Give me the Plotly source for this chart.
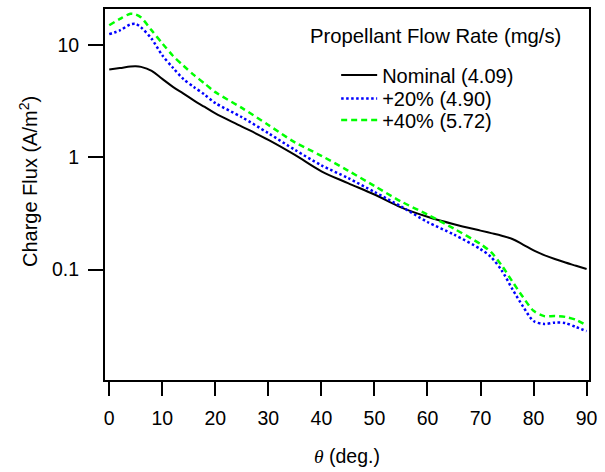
import plotly.graph_objects as go

# Angle grid (deg.)
theta = [0, 2, 4, 5, 6, 8, 10, 12, 14, 16, 18, 20, 25, 30, 35, 40, 45, 50,
         55, 60, 65, 70, 72, 74, 76, 78, 80, 82, 84, 86, 88, 90]

# Charge flux (A/m^2) for each propellant flow rate
flux_nominal = [6.07, 6.25, 6.45, 6.48, 6.40, 5.90, 5.00, 4.25, 3.70, 3.20, 2.81, 2.46,
                1.88, 1.43, 1.05, 0.751, 0.589, 0.466, 0.358, 0.295, 0.253, 0.222,
                0.211, 0.200, 0.187, 0.167, 0.148, 0.1345, 0.124, 0.1154, 0.108, 0.101]
flux_plus20 = [12.52, 13.53, 15.30, 15.45, 14.39, 11.37, 8.12, 6.29, 4.97, 4.22, 3.62, 3.045,
               2.279, 1.640, 1.166, 0.849, 0.654, 0.491, 0.365, 0.265, 0.2048, 0.152,
               0.1288, 0.098, 0.0669, 0.0469, 0.0347, 0.0327, 0.0336, 0.0333, 0.0307, 0.0282]
flux_plus40 = [15.05, 17.12, 19.03, 18.76, 17.65, 13.53, 10.37, 8.04, 6.55, 5.40, 4.54, 3.81,
               2.755, 1.943, 1.359, 1.031, 0.762, 0.555, 0.4045, 0.309, 0.231, 0.1684,
               0.1427, 0.1085, 0.0781, 0.0568, 0.0428, 0.0384, 0.0385, 0.0378, 0.0356, 0.0317]

series_names = ["Nominal (4.09)", "+20% (4.90)", "+40% (5.72)"]
legend_title = "Propellant Flow Rate (mg/s)"
x_ticks = [0, 10, 20, 30, 40, 50, 60, 70, 80, 90]
y_ticks = [0.1, 1, 10]
y_ticktext = ["0.1", "1", "10"]

FONT = "Liberation Sans, Arial, sans-serif"

fig = go.Figure()
fig.add_trace(go.Scatter(x=theta, y=flux_nominal, mode="lines", name=series_names[0],
                         legend="legend",
                         line=dict(color="black", width=2, shape="spline", smoothing=1)))
fig.add_trace(go.Scatter(x=theta, y=flux_plus20, mode="lines", name=series_names[1],
                         legend="legend2",
                         line=dict(color="#0000ff", width=2.5, dash="2.5px,2.5px",
                                   shape="spline", smoothing=0.8)))
fig.add_trace(go.Scatter(x=theta, y=flux_plus40, mode="lines", name=series_names[2],
                         legend="legend3",
                         line=dict(color="#00ff00", width=2.5, dash="6px,4px",
                                   shape="spline", smoothing=0.8)))


def leg(ypaper):
    return dict(x=0.4776, y=ypaper, xanchor="left", yanchor="top",
                bgcolor="rgba(0,0,0,0)", borderwidth=0,
                font=dict(family=FONT, size=20, color="black"),
                itemwidth=36, tracegroupgap=0)


fig.update_layout(
    width=605, height=472,
    margin=dict(l=105, r=8, t=7, b=92),
    paper_bgcolor="white", plot_bgcolor="white",
    font=dict(family=FONT, size=19, color="black"),
    showlegend=True,
    legend=leg(0.8748),
    legend2=leg(0.8116),
    legend3=leg(0.7534),
    annotations=[
        dict(text=legend_title, xref="paper", yref="paper", x=0.4187, y=0.928,
             xanchor="left", yanchor="middle", showarrow=False,
             font=dict(family=FONT, size=20.3, color="black")),
        dict(text="Charge Flux (A/m<sup>2</sup>)", xref="paper", yref="paper",
             x=-0.158, y=0.535, xanchor="center", yanchor="middle", textangle=-90,
             showarrow=False, font=dict(family=FONT, size=20, color="black")),
        dict(text='<span style="font-family:Liberation Serif"><i>θ</i></span> (deg.)',
             xref="paper", yref="paper", x=0.5, y=-0.2038, xanchor="center",
             yanchor="middle", showarrow=False,
             font=dict(family=FONT, size=19.5, color="black")),
    ],
)

fig.update_xaxes(range=[-0.8, 90.45], tickvals=x_ticks, ticks="outside", ticklen=14,
                 tickwidth=2, tickcolor="black", showline=True, linewidth=2,
                 linecolor="black", mirror=True, showgrid=False, zeroline=False,
                 ticklabelstandoff=6,
                 tickfont=dict(family=FONT, size=19.5, color="black"))
fig.update_yaxes(type="log", range=[-1.985, 1.322], tickvals=y_ticks, ticktext=y_ticktext,
                 ticks="outside", ticklen=15, tickwidth=2, tickcolor="black",
                 showline=True, linewidth=2, linecolor="black", mirror=True,
                 showgrid=False, zeroline=False, ticklabelstandoff=5,
                 tickfont=dict(family=FONT, size=19.5, color="black"))

fig.write_html("out.html")
